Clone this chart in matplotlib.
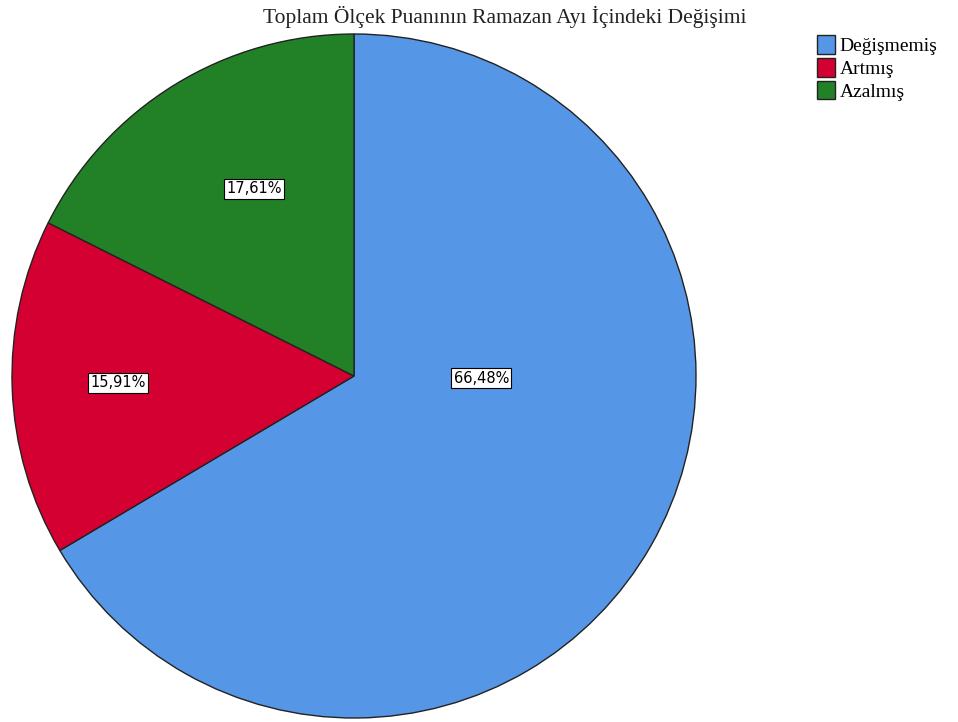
import matplotlib.pyplot as plt
from matplotlib.patches import Patch

# Veriler
kategoriler = ['Değişmemiş', 'Artmış', 'Azalmış']
yuzdeler = [66.48, 15.91, 17.61]
renkler = ['#5596E6', '#D50032', '#228126']
etiket_konum = [(0.372, -0.006), (-0.69, -0.02), (-0.293, 0.547)]

fig = plt.figure(figsize=(9.58, 7.22), dpi=100)
ax = fig.add_axes([12 / 958, 4 / 722, 684 / 958, 684 / 722])

dilimler, _ = ax.pie(yuzdeler, colors=renkler, startangle=90, counterclock=False,
                     wedgeprops={'edgecolor': '#222222', 'linewidth': 1.0})

# Yüzde etiketleri (beyaz kutulu)
for (x, y), v in zip(etiket_konum, yuzdeler):
    ax.text(x, y, f"{v:.2f}%".replace('.', ','), ha='center', va='center',
            fontsize=10.5, family='DejaVu Sans',
            bbox=dict(boxstyle='square,pad=0.15', fc='white', ec='black', lw=0.8))

ax.set_xlim(-1, 1)
ax.set_ylim(-1, 1)
ax.set_aspect('equal')

fig.text(505 / 958, 1 - 17 / 722, 'Toplam Ölçek Puanının Ramazan Ayı İçindeki Değişimi',
         ha='center', va='center', fontsize=15.5, family='Liberation Serif', color='#222222')

tutamaclar = [Patch(facecolor=c, edgecolor='#222222', lw=1.0) for c in renkler]
fig.legend(tutamaclar, kategoriler, loc='upper left', bbox_to_anchor=(817 / 958, 1 - 35 / 722),
           frameon=False, prop={'family': 'Liberation Serif', 'size': 14},
           handlelength=0.9, handleheight=1.1, handletextpad=0.25, labelspacing=0.15,
           borderaxespad=0, borderpad=0)

fig.savefig('out.png', dpi=100)
